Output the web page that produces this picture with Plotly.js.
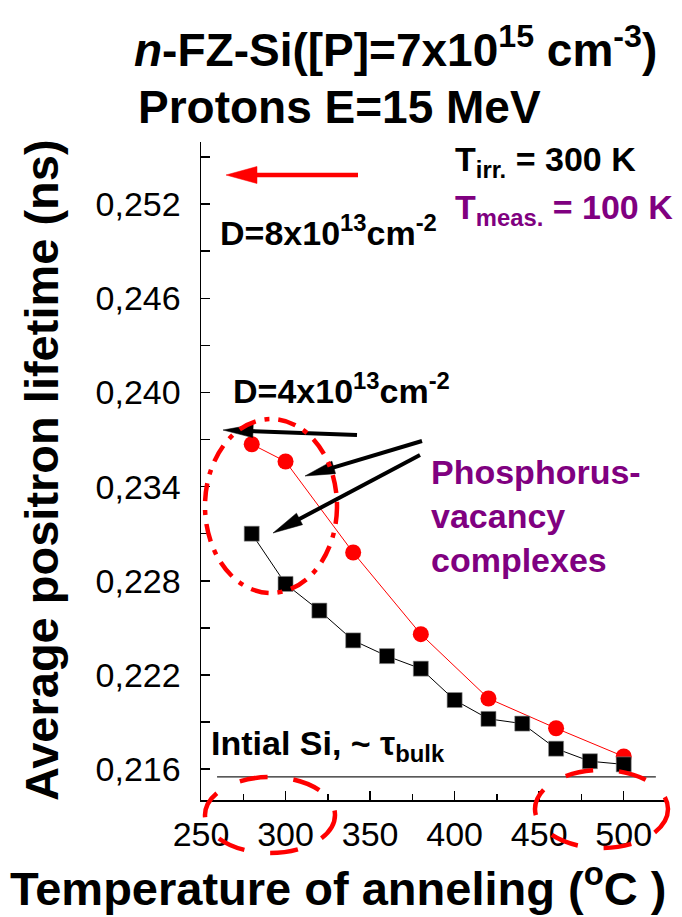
<!DOCTYPE html>
<html>
<head>
<meta charset="utf-8">
<script src="https://cdn.plot.ly/plotly-3.0.1.min.js"></script>
<style>html,body{margin:0;padding:0;background:#fff;}#chart{width:682px;height:917px;}</style>
</head>
<body>
<div id="chart"></div>
<script>
// ---- data ----
const tempD4 = [280, 300, 320, 340, 360, 380, 400, 420, 440, 460, 480, 500];
const lifetimeD4 = [0.2310, 0.2278, 0.2261, 0.2242, 0.2232, 0.2224, 0.2204, 0.2192, 0.2189, 0.2173, 0.2165, 0.2163];
const tempD8 = [280, 300, 340, 380, 420, 460, 500];
const lifetimeD8 = [0.2367, 0.2356, 0.2298, 0.2246, 0.2205, 0.2186, 0.2168];
const bulkTemp = [259.5, 519];
const bulkLifetime = [0.2155, 0.2155];

// ---- geometry helpers (plot area in page pixels) ----
const L = 201, T = 142, W = 465, H = 658;
function px(x) { return (x - L) / W; }
function py(y) { return (T + H - y) / H; }

const FONT = 'Liberation Sans, Arial, sans-serif';
const RED = '#ff0000', PURPLE = '#800080';

function arrow(x1, y1, x2, y2, w, hl, hw, color) {
  const dx = x2 - x1, dy = y2 - y1, len = Math.hypot(dx, dy);
  const ux = dx / len, uy = dy / len, nx = -uy, ny = ux;
  const sx = x2 - ux * hl * 0.8, sy = y2 - uy * hl * 0.8;
  const bx = x2 - ux * hl, by = y2 - uy * hl;
  return [
    {type: 'line', xref: 'paper', yref: 'paper', x0: px(x1), y0: py(y1), x1: px(sx), y1: py(sy),
     line: {color: color, width: w}},
    {type: 'path', xref: 'paper', yref: 'paper',
     path: 'M' + px(x2) + ',' + py(y2) + ' L' + px(bx + nx * hw / 2) + ',' + py(by + ny * hw / 2) +
           ' L' + px(bx - nx * hw / 2) + ',' + py(by - ny * hw / 2) + ' Z',
     fillcolor: color, line: {color: color, width: 0.5}}
  ];
}
function ellipse(x0, y0, x1, y1, dash, w) {
  return {type: 'circle', xref: 'paper', yref: 'paper', x0: px(x0), x1: px(x1), y0: py(y1), y1: py(y0),
          line: {color: RED, width: w, dash: dash}};
}

const traces = [
  {x: bulkTemp, y: bulkLifetime, mode: 'lines', line: {color: '#222', width: 1.3}, hoverinfo: 'skip'},
  {x: tempD8, y: lifetimeD8, mode: 'lines+markers', line: {color: RED, width: 1},
   marker: {symbol: 'circle', size: 16, color: RED}},
  {x: tempD4, y: lifetimeD4, mode: 'lines+markers', line: {color: '#000', width: 1},
   marker: {symbol: 'square', size: 15, color: '#000', line: {width: 0.6, color: '#888'}}}
];

let shapes = [];
shapes = shapes.concat(arrow(358, 175, 226, 175, 4.5, 31, 17, RED));
shapes = shapes.concat(arrow(357, 435, 223, 430, 4, 30, 13, '#000'));
shapes = shapes.concat(arrow(422, 441, 305, 476, 4, 30, 13, '#000'));
shapes = shapes.concat(arrow(420, 455, 273, 533, 4, 30, 13, '#000'));
shapes.push(ellipse(205, 419, 337, 593, '18px,9px,5px,9px', 4.5));
shapes.push(ellipse(205, 777, 335, 853, '28px,26px', 4.5));
shapes.push(ellipse(535, 770, 668, 848, '28px,26px', 4.5));

function ann(text, x, y, size, color, extra) {
  return Object.assign({text: text, xref: 'paper', yref: 'paper', x: px(x), y: py(y),
    xanchor: 'left', yanchor: 'middle', showarrow: false, align: 'left',
    font: {family: FONT, size: size, color: color}}, extra || {});
}

const annotations = [
  ann('<b>Protons E=15 MeV</b>', 136, 107, 46, '#000'),
  ann('<b>T<sub>irr.</sub> = 300 K</b>', 453, 162, 34, '#000'),
  ann('<b>T<sub>meas.</sub> = 100 K</b>', 453, 210, 34, PURPLE),
  ann('<b>D=8x10<sup>13</sup>cm<sup>-2</sup></b>', 218, 230, 34, '#000'),
  ann('<b>D=4x10<sup>13</sup>cm<sup>-2</sup></b>', 231, 388, 34, '#000'),
  ann('<b>Phosphorus-<br>vacancy<br>complexes</b>', 429, 516, 34, PURPLE),
  ann('<b>Intial Si, ~ τ<sub>bulk</sub></b>', 209, 745, 34, '#000'),
  ann('<b>Temperature of anneling (<sup>o</sup>C )</b>', 338, 885, 47, '#000', {xanchor: 'center'}),
  ann('<b>Average positron lifetime (ns)</b>', 41, 470, 47, '#000', {xanchor: 'center', textangle: -90})
];

const layout = {
  width: 682, height: 917,
  margin: {l: L, r: 682 - L - W, t: T, b: 917 - T - H},
  paper_bgcolor: '#fff', plot_bgcolor: '#fff',
  showlegend: false,
  separators: ', ',
  font: {family: FONT, color: '#000'},
  title: {text: '<b><i>n</i>-FZ-Si([P]=7x10<sup>15</sup> cm<sup>-3</sup>)</b>',
          font: {family: FONT, size: 46, color: '#000'},
          xref: 'container', x: 134 / 682, xanchor: 'left', yref: 'container', y: 1 - 50 / 917, yanchor: 'middle'},
  xaxis: {
    range: [250, 525], tick0: 250, dtick: 50, ticks: 'inside', ticklen: 9, tickwidth: 1.5, tickcolor: '#000',
    minor: {dtick: 25, ticks: 'inside', ticklen: 6, tickwidth: 1.5, tickcolor: '#000'},
    showline: true, linecolor: '#000', linewidth: 1.5, showgrid: false, zeroline: false,
    tickfont: {family: FONT, size: 34, color: '#000'}, ticklabelstandoff: 4
  },
  yaxis: {
    range: [0.21403, 0.25596], tick0: 0.216, dtick: 0.006, tickformat: '.3f', ticks: 'inside', ticklen: 9, tickwidth: 1.5, tickcolor: '#000',
    minor: {dtick: 0.003, ticks: 'inside', ticklen: 9, tickwidth: 1.5, tickcolor: '#000'},
    showline: true, linecolor: '#000', linewidth: 1.5, showgrid: false, zeroline: false,
    tickfont: {family: FONT, size: 34, color: '#000'}, ticklabelstandoff: 12
  },
  shapes: shapes,
  annotations: annotations
};

Plotly.newPlot('chart', traces, layout, {displayModeBar: false, staticPlot: true});
</script>
</body>
</html>
